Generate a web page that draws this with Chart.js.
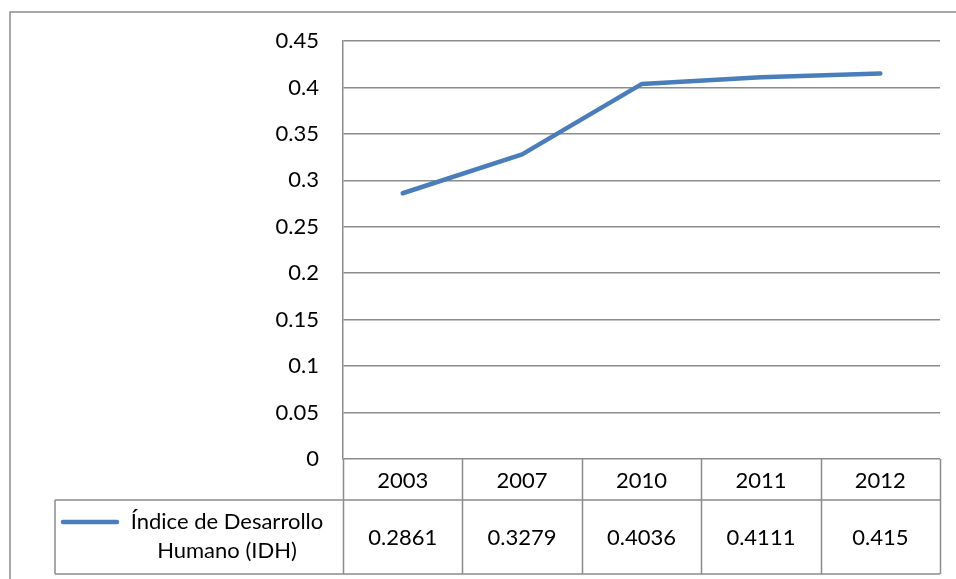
<!DOCTYPE html>
<html><head><meta charset="utf-8">
<script src="https://cdn.jsdelivr.net/npm/chart.js@4/dist/chart.umd.min.js"></script>
<style>html,body{margin:0;padding:0;background:#fff}#wrap{width:956px;height:579px}</style>
</head><body><div id="wrap"><canvas id="c" width="956" height="579"></canvas></div>
<script>
const categories = ['2003','2007','2010','2011','2012'];
const idhValues = [0.2861, 0.3279, 0.4036, 0.4111, 0.415];
const valueLabels = ['0.2861','0.3279','0.4036','0.4111','0.415'];
const seriesName = ['Índice de Desarrollo','Humano (IDH)'];

const FONT = 'Lato, "Liberation Sans", sans-serif';
const FS = 22;
const GRID = '#8c8c8c';
const BLUE = '#4a7ebb';

const tablePlugin = {
  id: 'dataTable',
  afterDraw(chart) {
    const ctx = chart.ctx;
    const ca = chart.chartArea;
    const x = chart.scales.x;
    const n = categories.length;
    const colW = (ca.right - ca.left) / n;
    const y0 = ca.bottom;
    const y1 = y0 + 41;
    const y2 = y0 + 115;
    const legL = 55;
    ctx.save();
    // outer chart border
    ctx.strokeStyle = GRID; ctx.lineWidth = 1.5;
    ctx.strokeRect(10, 12, 1200, 1200);
    // table grid
    ctx.beginPath();
    for (let i = 0; i <= n; i++) {
      const px = Math.round(ca.left + i * colW) + 0.5;
      ctx.moveTo(px, y0); ctx.lineTo(px, y2);
    }
    ctx.moveTo(legL, y1); ctx.lineTo(ca.right, y1);
    ctx.moveTo(legL, y2); ctx.lineTo(ca.right, y2);
    ctx.moveTo(legL, y1); ctx.lineTo(legL, y2);
    ctx.stroke();
    // text
    ctx.fillStyle = '#000';
    ctx.font = FS + 'px ' + FONT;
    ctx.textAlign = 'center'; ctx.textBaseline = 'middle';
    categories.forEach((c, i) => {
      const cx = x.getPixelForValue(i);
      ctx.fillText(c, cx, (y0 + y1) / 2 + 1);
      ctx.fillText(valueLabels[i], cx, (y1 + y2) / 2 + 1);
    });
    // legend key
    ctx.strokeStyle = BLUE; ctx.lineWidth = 4.5; ctx.lineCap = 'round';
    ctx.beginPath(); ctx.moveTo(63, 522); ctx.lineTo(117, 522); ctx.stroke();
    ctx.fillText(seriesName[0], 227, 522);
    ctx.fillText(seriesName[1], 227, 551);
    ctx.restore();
  }
};

new Chart(document.getElementById('c'), {
  type: 'line',
  data: {
    labels: categories,
    datasets: [{
      label: seriesName.join(' '),
      data: idhValues,
      borderColor: BLUE,
      borderWidth: 4.5,
      pointRadius: 0,
      tension: 0,
      borderCapStyle: 'round',
      borderJoinStyle: 'round'
    }]
  },
  options: {
    responsive: false,
    animation: false,
    layout: { padding: { left: 0, top: 41, right: 16, bottom: 120 } },
    plugins: { legend: { display: false }, tooltip: { enabled: false } },
    scales: {
      x: { display: false, offset: true },
      y: {
        min: 0, max: 0.45,
        afterFit(s) { s.width = 343; },
        ticks: {
          stepSize: 0.05,
          padding: 24,
          color: '#000',
          font: { family: FONT, size: FS },
          callback: v => String(+v.toFixed(2))
        },
        grid: { color: GRID, lineWidth: 1.5, drawTicks: false },
        border: { display: true, color: GRID, width: 1.5 }
      }
    }
  },
  plugins: [tablePlugin]
});
</script></body></html>
